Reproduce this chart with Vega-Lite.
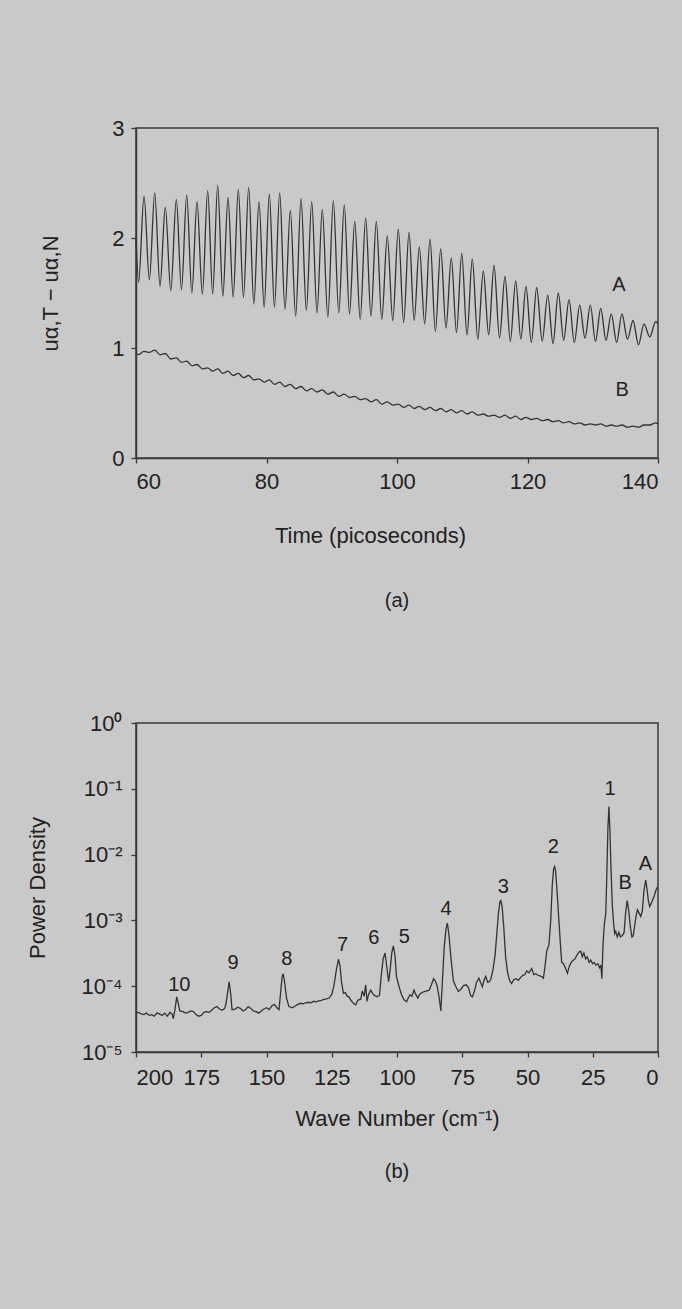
{
  "$schema": "https://vega.github.io/schema/vega-lite/v6.json",
  "background": "#c9c9c9",
  "padding": {"left": 25, "top": 116, "right": 20, "bottom": 150},
  "spacing": 99,
  "config": {
    "font": "Liberation Sans",
    "view": {"stroke": "#3a3a3a", "strokeWidth": 1.5},
    "axis": {
      "grid": false,
      "domainColor": "#3a3a3a",
      "domainWidth": 1.5,
      "tickColor": "#3a3a3a",
      "tickSize": 5,
      "tickWidth": 1.3,
      "labelFont": "Liberation Sans",
      "labelFontSize": 22,
      "labelColor": "#222222",
      "titleFont": "Liberation Sans",
      "titleFontSize": 22,
      "titleFontWeight": "normal",
      "titleColor": "#222222"
    },
    "title": {"font": "Liberation Sans", "fontSize": 20, "fontWeight": "normal", "color": "#222222", "frame": "group"}
  },
  "vconcat": [
    {
      "width": 522,
      "height": 330,
      "title": {"text": "(a)", "orient": "bottom", "offset": 45},
      "layer": [
        {
          "data": {"name": "series", "values": [
            {"t": 60.0, "a": 2.00, "b": 0.95},
            {"t": 60.4, "a": 1.60, "b": 0.94},
            {"t": 61.23, "a": 2.38, "b": 0.97},
            {"t": 62.05, "a": 1.62, "b": 0.96},
            {"t": 62.87, "a": 2.41, "b": 0.98},
            {"t": 63.68, "a": 1.56, "b": 0.94},
            {"t": 64.49, "a": 2.28, "b": 0.95},
            {"t": 65.33, "a": 1.52, "b": 0.90},
            {"t": 66.18, "a": 2.35, "b": 0.91},
            {"t": 66.97, "a": 1.53, "b": 0.87},
            {"t": 67.77, "a": 2.39, "b": 0.88},
            {"t": 68.56, "a": 1.50, "b": 0.84},
            {"t": 69.35, "a": 2.33, "b": 0.85},
            {"t": 70.17, "a": 1.49, "b": 0.81},
            {"t": 70.99, "a": 2.43, "b": 0.82},
            {"t": 71.75, "a": 1.49, "b": 0.79},
            {"t": 72.52, "a": 2.48, "b": 0.81},
            {"t": 73.31, "a": 1.47, "b": 0.77},
            {"t": 74.10, "a": 2.37, "b": 0.79},
            {"t": 74.89, "a": 1.46, "b": 0.75},
            {"t": 75.68, "a": 2.44, "b": 0.77},
            {"t": 76.47, "a": 1.46, "b": 0.73},
            {"t": 77.27, "a": 2.46, "b": 0.75},
            {"t": 78.06, "a": 1.40, "b": 0.71},
            {"t": 78.85, "a": 2.33, "b": 0.72},
            {"t": 79.64, "a": 1.37, "b": 0.69},
            {"t": 80.43, "a": 2.40, "b": 0.71},
            {"t": 81.22, "a": 1.37, "b": 0.67},
            {"t": 82.02, "a": 2.41, "b": 0.69},
            {"t": 82.83, "a": 1.35, "b": 0.65},
            {"t": 83.65, "a": 2.25, "b": 0.67},
            {"t": 84.47, "a": 1.29, "b": 0.63},
            {"t": 85.29, "a": 2.36, "b": 0.65},
            {"t": 86.11, "a": 1.34, "b": 0.61},
            {"t": 86.93, "a": 2.33, "b": 0.63},
            {"t": 87.74, "a": 1.32, "b": 0.60},
            {"t": 88.55, "a": 2.26, "b": 0.62},
            {"t": 89.40, "a": 1.28, "b": 0.58},
            {"t": 90.24, "a": 2.34, "b": 0.60},
            {"t": 91.08, "a": 1.32, "b": 0.56},
            {"t": 91.92, "a": 2.30, "b": 0.58},
            {"t": 92.72, "a": 1.31, "b": 0.55},
            {"t": 93.52, "a": 2.15, "b": 0.56},
            {"t": 94.36, "a": 1.26, "b": 0.53},
            {"t": 95.20, "a": 2.18, "b": 0.54},
            {"t": 96.01, "a": 1.29, "b": 0.51},
            {"t": 96.83, "a": 2.15, "b": 0.53},
            {"t": 97.67, "a": 1.26, "b": 0.49},
            {"t": 98.51, "a": 2.02, "b": 0.51},
            {"t": 99.35, "a": 1.25, "b": 0.48},
            {"t": 100.20, "a": 2.08, "b": 0.49},
            {"t": 101.02, "a": 1.23, "b": 0.46},
            {"t": 101.84, "a": 2.05, "b": 0.48},
            {"t": 102.63, "a": 1.25, "b": 0.45},
            {"t": 103.42, "a": 1.92, "b": 0.47},
            {"t": 104.24, "a": 1.22, "b": 0.44},
            {"t": 105.06, "a": 1.99, "b": 0.46},
            {"t": 105.88, "a": 1.15, "b": 0.43},
            {"t": 106.70, "a": 1.90, "b": 0.45},
            {"t": 107.51, "a": 1.18, "b": 0.42},
            {"t": 108.32, "a": 1.82, "b": 0.44},
            {"t": 109.12, "a": 1.14, "b": 0.41},
            {"t": 109.92, "a": 1.86, "b": 0.43},
            {"t": 110.73, "a": 1.12, "b": 0.40},
            {"t": 111.54, "a": 1.81, "b": 0.42},
            {"t": 112.38, "a": 1.08, "b": 0.39},
            {"t": 113.23, "a": 1.70, "b": 0.40},
            {"t": 114.05, "a": 1.12, "b": 0.38},
            {"t": 114.87, "a": 1.75, "b": 0.39},
            {"t": 115.71, "a": 1.09, "b": 0.37},
            {"t": 116.55, "a": 1.65, "b": 0.39},
            {"t": 117.37, "a": 1.06, "b": 0.36},
            {"t": 118.19, "a": 1.61, "b": 0.38},
            {"t": 118.98, "a": 1.08, "b": 0.35},
            {"t": 119.77, "a": 1.56, "b": 0.37},
            {"t": 120.59, "a": 1.05, "b": 0.35},
            {"t": 121.41, "a": 1.55, "b": 0.36},
            {"t": 122.25, "a": 1.06, "b": 0.34},
            {"t": 123.10, "a": 1.48, "b": 0.35},
            {"t": 123.91, "a": 1.04, "b": 0.33},
            {"t": 124.72, "a": 1.50, "b": 0.34},
            {"t": 125.54, "a": 1.07, "b": 0.32},
            {"t": 126.36, "a": 1.44, "b": 0.33},
            {"t": 127.18, "a": 1.05, "b": 0.31},
            {"t": 128.00, "a": 1.39, "b": 0.32},
            {"t": 128.81, "a": 1.09, "b": 0.30},
            {"t": 129.63, "a": 1.39, "b": 0.31},
            {"t": 130.42, "a": 1.06, "b": 0.30},
            {"t": 131.22, "a": 1.36, "b": 0.31},
            {"t": 132.03, "a": 1.07, "b": 0.29},
            {"t": 132.84, "a": 1.31, "b": 0.30},
            {"t": 133.66, "a": 1.05, "b": 0.29},
            {"t": 134.48, "a": 1.31, "b": 0.30},
            {"t": 135.32, "a": 1.08, "b": 0.28},
            {"t": 136.17, "a": 1.25, "b": 0.29},
            {"t": 137.01, "a": 1.03, "b": 0.28},
            {"t": 137.85, "a": 1.22, "b": 0.30},
            {"t": 138.74, "a": 1.10, "b": 0.30},
            {"t": 139.64, "a": 1.24, "b": 0.32},
            {"t": 140.0, "a": 1.22, "b": 0.31}
          ]},
          "mark": {"type": "line", "interpolate": "monotone", "stroke": "#333333", "strokeWidth": 1.3},
          "encoding": {
            "x": {"field": "t", "type": "quantitative", "scale": {"domain": [60, 140]},
              "axis": {"values": [60, 80, 100, 120, 140], "labelPadding": 8, "title": "Time (picoseconds)", "titlePadding": 33, "titleX": 234}},
            "y": {"field": "a", "type": "quantitative", "scale": {"domain": [0, 3]},
              "axis": {"values": [0, 1, 2, 3], "format": "d", "labelPadding": 7, "title": "uα,T − uα,N", "titlePadding": 49}}
          }
        },
        {
          "data": {"name": "series"},
          "mark": {"type": "line", "interpolate": "monotone", "stroke": "#333333", "strokeWidth": 1.3},
          "encoding": {
            "x": {"field": "t", "type": "quantitative"},
            "y": {"field": "b", "type": "quantitative"}
          }
        },
        {
          "data": {"values": [
            {"t": 134.0, "v": 1.57, "lab": "A"},
            {"t": 134.5, "v": 0.62, "lab": "B"}
          ]},
          "mark": {"type": "text", "fontSize": 20, "color": "#222222", "baseline": "middle", "align": "center"},
          "encoding": {
            "x": {"field": "t", "type": "quantitative"},
            "y": {"field": "v", "type": "quantitative"},
            "text": {"field": "lab"}
          }
        }
      ]
    },
    {
      "width": 522,
      "height": 329,
      "title": {"text": "(b)", "orient": "bottom", "offset": 33},
      "layer": [
        {
          "data": {"values": [
            {"wn": 200, "p": 3.9e-5}, {"wn": 199, "p": 4.0e-5}, {"wn": 198, "p": 3.8e-5}, {"wn": 197, "p": 3.7e-5},
            {"wn": 196, "p": 3.9e-5}, {"wn": 195, "p": 3.6e-5}, {"wn": 194, "p": 3.7e-5}, {"wn": 193, "p": 3.5e-5},
            {"wn": 192, "p": 3.9e-5}, {"wn": 191, "p": 3.8e-5}, {"wn": 190, "p": 3.6e-5}, {"wn": 189, "p": 3.9e-5},
            {"wn": 188, "p": 3.5e-5}, {"wn": 187, "p": 4.0e-5}, {"wn": 186.2, "p": 3.8e-5}, {"wn": 185.7, "p": 3.2e-5},
            {"wn": 185.0, "p": 4.6e-5}, {"wn": 184.4, "p": 6.9e-5}, {"wn": 183.8, "p": 5.5e-5}, {"wn": 183.2, "p": 4.2e-5},
            {"wn": 182, "p": 4.1e-5}, {"wn": 181, "p": 3.9e-5}, {"wn": 180, "p": 4.0e-5}, {"wn": 179, "p": 4.2e-5},
            {"wn": 178, "p": 4.1e-5}, {"wn": 177, "p": 3.7e-5}, {"wn": 176, "p": 3.5e-5}, {"wn": 175, "p": 3.6e-5},
            {"wn": 174, "p": 4.0e-5}, {"wn": 173, "p": 4.1e-5}, {"wn": 172, "p": 4.0e-5}, {"wn": 171, "p": 4.3e-5},
            {"wn": 170, "p": 4.7e-5}, {"wn": 169, "p": 4.9e-5}, {"wn": 168, "p": 4.5e-5}, {"wn": 167, "p": 4.3e-5},
            {"wn": 166, "p": 4.6e-5}, {"wn": 165.5, "p": 5.5e-5}, {"wn": 165, "p": 7.5e-5}, {"wn": 164.3, "p": 1.17e-4},
            {"wn": 163.7, "p": 7.5e-5}, {"wn": 163.2, "p": 4.4e-5}, {"wn": 162, "p": 4.5e-5}, {"wn": 161, "p": 4.8e-5},
            {"wn": 160, "p": 4.6e-5}, {"wn": 159, "p": 4.2e-5}, {"wn": 158, "p": 4.4e-5}, {"wn": 157, "p": 4.9e-5},
            {"wn": 156, "p": 4.6e-5}, {"wn": 155, "p": 4.2e-5}, {"wn": 154, "p": 4.1e-5}, {"wn": 153, "p": 3.9e-5},
            {"wn": 152, "p": 4.2e-5}, {"wn": 151, "p": 4.5e-5}, {"wn": 150, "p": 4.7e-5}, {"wn": 149, "p": 4.4e-5},
            {"wn": 148, "p": 5.0e-5}, {"wn": 147, "p": 5.3e-5}, {"wn": 146, "p": 4.7e-5}, {"wn": 145.2, "p": 4.4e-5},
            {"wn": 144.6, "p": 8.0e-5}, {"wn": 144.0, "p": 1.4e-4}, {"wn": 143.6, "p": 1.55e-4}, {"wn": 143.0, "p": 1.1e-4},
            {"wn": 142.3, "p": 6.5e-5}, {"wn": 141.4, "p": 4.9e-5}, {"wn": 140, "p": 4.7e-5}, {"wn": 139, "p": 5.0e-5},
            {"wn": 138, "p": 5.3e-5}, {"wn": 137, "p": 5.5e-5}, {"wn": 136, "p": 5.4e-5}, {"wn": 135, "p": 5.6e-5},
            {"wn": 134, "p": 5.7e-5}, {"wn": 133, "p": 5.6e-5}, {"wn": 132, "p": 5.9e-5}, {"wn": 131, "p": 5.8e-5},
            {"wn": 130, "p": 6.0e-5}, {"wn": 129, "p": 6.1e-5}, {"wn": 128, "p": 6.3e-5}, {"wn": 127, "p": 6.4e-5},
            {"wn": 126, "p": 6.6e-5}, {"wn": 125, "p": 7.5e-5}, {"wn": 124.2, "p": 1.0e-4}, {"wn": 123.2, "p": 1.8e-4},
            {"wn": 122.4, "p": 2.57e-4}, {"wn": 121.8, "p": 2.0e-4}, {"wn": 121.2, "p": 1.1e-4}, {"wn": 120.5, "p": 7.8e-5},
            {"wn": 119.8, "p": 8.0e-5}, {"wn": 119, "p": 7.0e-5}, {"wn": 118.4, "p": 6.9e-5}, {"wn": 117.5, "p": 6.0e-5},
            {"wn": 116.5, "p": 5.4e-5}, {"wn": 115.8, "p": 5.2e-5}, {"wn": 115, "p": 6.1e-5}, {"wn": 114.3, "p": 6.3e-5},
            {"wn": 113.9, "p": 6.3e-5}, {"wn": 113.3, "p": 8.5e-5}, {"wn": 112.6, "p": 7.0e-5}, {"wn": 112.0, "p": 1.05e-4},
            {"wn": 111.5, "p": 5.9e-5}, {"wn": 110.9, "p": 7.5e-5}, {"wn": 110.1, "p": 8.7e-5}, {"wn": 109.3, "p": 7.7e-5},
            {"wn": 108.5, "p": 7.2e-5}, {"wn": 107.6, "p": 6.9e-5}, {"wn": 106.7, "p": 7.3e-5}, {"wn": 106.0, "p": 1.5e-4},
            {"wn": 105.3, "p": 2.6e-4}, {"wn": 104.6, "p": 3.2e-4}, {"wn": 104.0, "p": 2.1e-4}, {"wn": 103.2, "p": 1.17e-4},
            {"wn": 102.6, "p": 1.8e-4}, {"wn": 102.0, "p": 3.2e-4}, {"wn": 101.4, "p": 4.1e-4}, {"wn": 100.8, "p": 3.0e-4},
            {"wn": 100.2, "p": 1.4e-4}, {"wn": 99.2, "p": 9.8e-5}, {"wn": 98.3, "p": 7.5e-5}, {"wn": 97.3, "p": 6.2e-5},
            {"wn": 96.3, "p": 5.8e-5}, {"wn": 95.8, "p": 6.5e-5}, {"wn": 95.0, "p": 7.4e-5}, {"wn": 94.3, "p": 7.0e-5},
            {"wn": 93.5, "p": 8.7e-5}, {"wn": 92.8, "p": 7.5e-5}, {"wn": 92.0, "p": 6.6e-5}, {"wn": 91.4, "p": 7.5e-5},
            {"wn": 90.4, "p": 8.0e-5}, {"wn": 89.5, "p": 8.3e-5}, {"wn": 88.6, "p": 8.5e-5}, {"wn": 87.7, "p": 8.7e-5},
            {"wn": 86.8, "p": 1.05e-4}, {"wn": 86.0, "p": 1.3e-4}, {"wn": 85.3, "p": 1.2e-4}, {"wn": 84.6, "p": 1.0e-4},
            {"wn": 83.8, "p": 6.5e-5}, {"wn": 83.2, "p": 4.2e-5}, {"wn": 82.6, "p": 1.2e-4}, {"wn": 81.9, "p": 4.0e-4},
            {"wn": 81.2, "p": 7.5e-4}, {"wn": 80.7, "p": 9.1e-4}, {"wn": 80.1, "p": 6.0e-4}, {"wn": 79.3, "p": 2.6e-4},
            {"wn": 78.4, "p": 1.2e-4}, {"wn": 77.5, "p": 1.0e-4}, {"wn": 76.5, "p": 8.3e-5}, {"wn": 75.5, "p": 9.0e-5},
            {"wn": 74.5, "p": 1.02e-4}, {"wn": 73.5, "p": 1.05e-4}, {"wn": 72.6, "p": 9.5e-5}, {"wn": 71.8, "p": 7.2e-5},
            {"wn": 71.1, "p": 6.9e-5}, {"wn": 70.3, "p": 8.5e-5}, {"wn": 69.5, "p": 1.15e-4}, {"wn": 68.6, "p": 1.32e-4},
            {"wn": 68.0, "p": 1.15e-4}, {"wn": 67.3, "p": 9.8e-5}, {"wn": 66.6, "p": 1.25e-4}, {"wn": 66.0, "p": 1.41e-4},
            {"wn": 65.3, "p": 1.15e-4}, {"wn": 64.6, "p": 1.17e-4}, {"wn": 64.0, "p": 1.3e-4}, {"wn": 63.2, "p": 1.8e-4},
            {"wn": 62.4, "p": 3.0e-4}, {"wn": 61.8, "p": 6.0e-4}, {"wn": 61.2, "p": 1.2e-3}, {"wn": 60.6, "p": 1.9e-3},
            {"wn": 60.2, "p": 2.0e-3}, {"wn": 59.7, "p": 1.6e-3}, {"wn": 59.1, "p": 8.0e-4}, {"wn": 58.4, "p": 2.8e-4},
            {"wn": 57.6, "p": 1.6e-4}, {"wn": 56.8, "p": 1.2e-4}, {"wn": 56.1, "p": 1.1e-4}, {"wn": 55.3, "p": 1.25e-4},
            {"wn": 54.4, "p": 1.3e-4}, {"wn": 53.5, "p": 1.23e-4}, {"wn": 52.7, "p": 1.35e-4}, {"wn": 51.9, "p": 1.45e-4},
            {"wn": 51.0, "p": 1.5e-4}, {"wn": 50.3, "p": 1.7e-4}, {"wn": 49.4, "p": 1.6e-4}, {"wn": 48.4, "p": 1.86e-4},
            {"wn": 47.6, "p": 1.5e-4}, {"wn": 46.8, "p": 1.55e-4}, {"wn": 46.2, "p": 1.48e-4}, {"wn": 45.5, "p": 1.45e-4},
            {"wn": 44.6, "p": 1.4e-4}, {"wn": 43.9, "p": 1.32e-4}, {"wn": 43.3, "p": 2.0e-4}, {"wn": 42.6, "p": 3.5e-4},
            {"wn": 41.8, "p": 4.2e-4}, {"wn": 41.1, "p": 1.0e-3}, {"wn": 40.5, "p": 3.5e-3}, {"wn": 40.0, "p": 6.0e-3},
            {"wn": 39.6, "p": 6.6e-3}, {"wn": 39.2, "p": 5.5e-3}, {"wn": 38.6, "p": 2.5e-3}, {"wn": 37.9, "p": 9.1e-4},
            {"wn": 37.3, "p": 3.8e-4}, {"wn": 36.9, "p": 2.3e-4}, {"wn": 36.2, "p": 2.2e-4}, {"wn": 35.5, "p": 1.9e-4},
            {"wn": 34.7, "p": 1.58e-4}, {"wn": 34.0, "p": 2.0e-4}, {"wn": 33.3, "p": 2.3e-4}, {"wn": 32.6, "p": 2.45e-4},
            {"wn": 31.8, "p": 2.6e-4}, {"wn": 31.0, "p": 3.0e-4}, {"wn": 30.3, "p": 3.3e-4}, {"wn": 29.6, "p": 3.4e-4},
            {"wn": 29.0, "p": 2.8e-4}, {"wn": 28.4, "p": 3.2e-4}, {"wn": 27.7, "p": 2.6e-4}, {"wn": 27.1, "p": 2.8e-4},
            {"wn": 26.4, "p": 2.3e-4}, {"wn": 25.8, "p": 2.5e-4}, {"wn": 25.1, "p": 2.2e-4}, {"wn": 24.5, "p": 2.3e-4},
            {"wn": 23.8, "p": 2.1e-4}, {"wn": 23.0, "p": 2.2e-4}, {"wn": 22.4, "p": 1.9e-4}, {"wn": 21.9, "p": 2.1e-4},
            {"wn": 21.5, "p": 1.3e-4}, {"wn": 21.1, "p": 4.0e-4}, {"wn": 20.6, "p": 8.5e-4}, {"wn": 20.0, "p": 1.29e-3},
            {"wn": 19.6, "p": 5.0e-3}, {"wn": 19.2, "p": 2.5e-2}, {"wn": 18.8, "p": 5.4e-2}, {"wn": 18.4, "p": 2.2e-2},
            {"wn": 18.0, "p": 6.0e-3}, {"wn": 17.5, "p": 1.66e-3}, {"wn": 17.0, "p": 9.0e-4}, {"wn": 16.6, "p": 6.3e-4},
            {"wn": 16.2, "p": 6.8e-4}, {"wn": 15.6, "p": 5.6e-4}, {"wn": 15.0, "p": 6.6e-4}, {"wn": 14.4, "p": 5.6e-4},
            {"wn": 13.7, "p": 5.9e-4}, {"wn": 13.0, "p": 6.5e-4}, {"wn": 12.4, "p": 1.3e-3}, {"wn": 11.8, "p": 2.0e-3},
            {"wn": 11.2, "p": 1.4e-3}, {"wn": 10.6, "p": 8.0e-4}, {"wn": 10.0, "p": 5.6e-4}, {"wn": 9.5, "p": 5.8e-4},
            {"wn": 9.0, "p": 8.0e-4}, {"wn": 8.5, "p": 1.1e-3}, {"wn": 7.9, "p": 1.45e-3}, {"wn": 7.3, "p": 1.3e-3},
            {"wn": 6.6, "p": 1.15e-3}, {"wn": 6.0, "p": 1.4e-3}, {"wn": 5.4, "p": 2.8e-3}, {"wn": 4.7, "p": 4.1e-3},
            {"wn": 4.2, "p": 3.0e-3}, {"wn": 3.7, "p": 2.0e-3}, {"wn": 3.2, "p": 1.62e-3}, {"wn": 2.6, "p": 1.8e-3},
            {"wn": 2.0, "p": 2.1e-3}, {"wn": 1.5, "p": 2.3e-3}, {"wn": 0.9, "p": 2.8e-3}, {"wn": 0.3, "p": 3.2e-3}
          ]},
          "mark": {"type": "line", "stroke": "#333333", "strokeWidth": 1.3},
          "encoding": {
            "x": {"field": "wn", "type": "quantitative", "sort": null, "scale": {"domain": [0, 200], "reverse": true},
              "axis": {"values": [200, 175, 150, 125, 100, 75, 50, 25, 0], "labelPadding": 10, "title": "Wave Number (cm⁻¹)", "titlePadding": 20}},
            "y": {"field": "p", "type": "quantitative", "scale": {"type": "log", "domain": [0.00001, 1]},
              "axis": {"values": [0.00001, 0.0001, 0.001, 0.01, 0.1, 1], "labelPadding": 9, "title": "Power Density", "titlePadding": 32,
                "labelExpr": "datum.value > 0.5 ? '10⁰' : datum.value > 0.05 ? '10⁻¹' : datum.value > 0.005 ? '10⁻²' : datum.value > 0.0005 ? '10⁻³' : datum.value > 0.00005 ? '10⁻⁴' : '10⁻⁵'"}}
          }
        },
        {
          "data": {"values": [
            {"wn": 183.4, "p": 1.05e-4, "lab": "10"},
            {"wn": 162.8, "p": 2.24e-4, "lab": "9"},
            {"wn": 142.2, "p": 2.63e-4, "lab": "8"},
            {"wn": 120.9, "p": 4.27e-4, "lab": "7"},
            {"wn": 108.9, "p": 5.4e-4, "lab": "6"},
            {"wn": 97.2, "p": 5.6e-4, "lab": "5"},
            {"wn": 81.2, "p": 1.51e-3, "lab": "4"},
            {"wn": 59.3, "p": 3.2e-3, "lab": "3"},
            {"wn": 40.1, "p": 1.32e-2, "lab": "2"},
            {"wn": 18.4, "p": 9.8e-2, "lab": "1"},
            {"wn": 12.6, "p": 3.7e-3, "lab": "B"},
            {"wn": 4.8, "p": 7.2e-3, "lab": "A"}
          ]},
          "mark": {"type": "text", "fontSize": 20, "color": "#222222", "baseline": "middle", "align": "center"},
          "encoding": {
            "x": {"field": "wn", "type": "quantitative"},
            "y": {"field": "p", "type": "quantitative"},
            "text": {"field": "lab"}
          }
        }
      ]
    }
  ]
}
